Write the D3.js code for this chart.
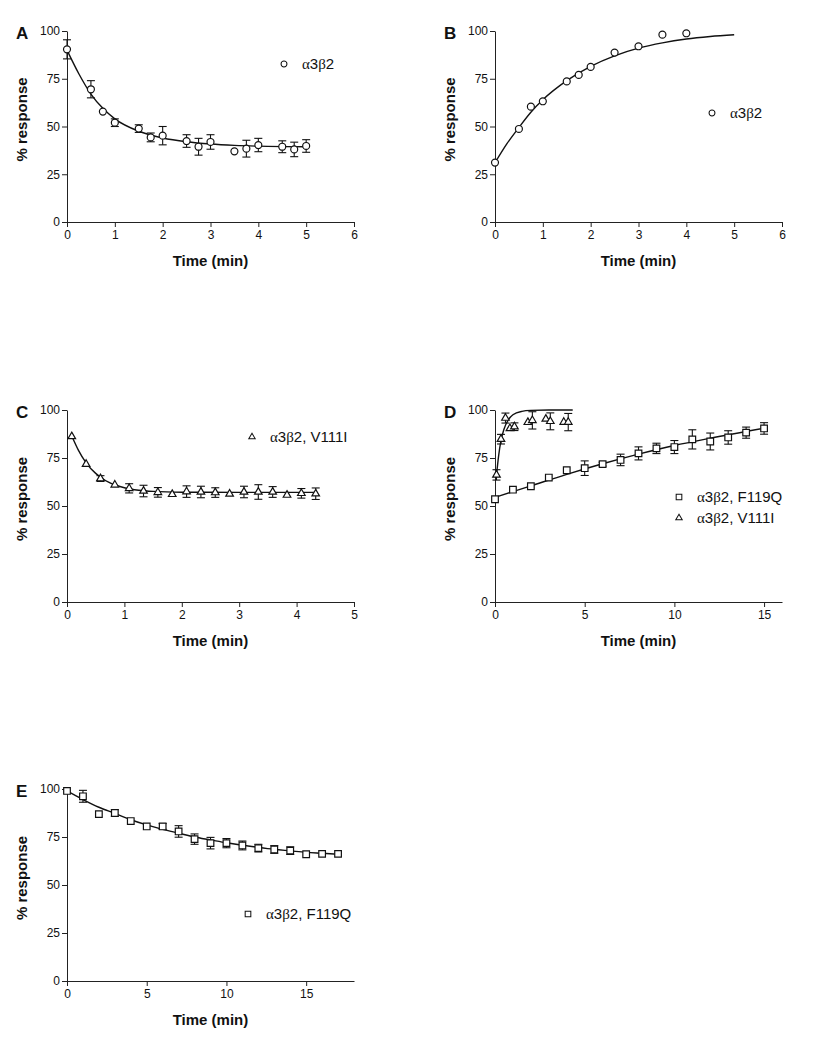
<!DOCTYPE html>
<html>
<head>
<meta charset="utf-8">
<script src="https://cdnjs.cloudflare.com/ajax/libs/d3/7.8.5/d3.min.js"></script>
<style>
  body { margin: 0; background: #fff; }
  text { font-family: Arial, "Liberation Sans", sans-serif; fill: #111; }
</style>
</head>
<body>
<div></div>
<script>
// ---- data ----
// A: a3b2 recovery (circles)
var timeA = [0, 0.5, 0.75, 1, 1.5, 1.75, 2, 2.5, 2.75, 3, 3.5, 3.75, 4, 4.5, 4.75, 5];
var respA = [90.4, 69.5, 57.8, 52, 48.9, 44.3, 45.2, 42.4, 39.4, 41.9, 37, 38.4, 40.3, 39.4, 38, 39.8];
var semA  = [5, 4.5, 0, 2, 2, 2.3, 4.8, 3.3, 4.4, 3.8, 0, 4.4, 3.5, 3.1, 3.8, 3.3];
var fitTimeA = [0, 0.25, 0.5, 0.75, 1, 1.5, 2, 2.5, 3, 3.5, 4, 5];
var fitRespA = [90, 77.5, 67, 59.5, 54, 47.5, 44, 42, 40.8, 40.1, 39.7, 39.4];

// B: a3b2 (circles, no error bars)
var timeB = [0, 0.5, 0.75, 1, 1.5, 1.75, 2, 2.5, 3, 3.5, 4];
var respB = [31.1, 48.7, 60.4, 63.2, 73.6, 77, 81.2, 88.7, 92, 98.1, 98.8];
var fitTimeB = [0, 0.25, 0.5, 0.75, 1, 1.5, 2, 2.5, 3, 3.5, 4, 4.5, 5];
var fitRespB = [31, 41, 49.5, 57.5, 64, 74, 81.5, 87, 91, 93.8, 95.8, 97.1, 98];

// C: a3b2 V111I (triangles)
var timeC = [0.083, 0.333, 0.583, 0.833, 1.083, 1.333, 1.583, 1.833, 2.083, 2.333, 2.583, 2.833, 3.083, 3.333, 3.583, 3.833, 4.083, 4.333];
var respC = [86.2, 71.8, 64.3, 61, 59.2, 57.8, 57.1, 56.1, 57.5, 57.3, 57, 56.3, 57.3, 57.3, 57.3, 55.7, 56.6, 56.4];
var semC  = [0, 0, 1.5, 0, 2.4, 3, 2.5, 0, 3, 3, 2.5, 0, 3, 3.8, 2.8, 0, 2.5, 3];
var fitTimeC = [0.083, 0.2, 0.333, 0.5, 0.583, 0.75, 1, 1.25, 1.5, 2, 3, 4.333];
var fitRespC = [86.5, 79, 72.5, 67, 65, 62, 59.5, 58.2, 57.6, 57.2, 57.1, 57.1];

// D: a3b2 F119Q (squares) and a3b2 V111I (triangles)
var timeDF = [0, 1, 2, 3, 4, 5, 6, 7, 8, 9, 10, 11, 12, 13, 14, 15];
var respDF = [53.5, 58.5, 60.3, 64.8, 68.6, 69.7, 71.8, 74, 77.4, 80, 80.7, 84.7, 83.6, 85.7, 88.2, 90.4];
var semDF  = [0, 0, 0, 0, 0, 3.8, 1, 3, 3.4, 2.7, 3.4, 5, 4.4, 3.5, 2.9, 3];
var fitTimeDF = [0, 2, 4, 6, 8, 10, 12, 15];
var fitRespDF = [54.5, 60.5, 66.5, 72, 77, 81.5, 85.3, 90.5];
var timeDV = [0.083, 0.333, 0.583, 0.833, 1.083, 1.833, 2.083, 2.833, 3.083, 3.833, 4.083];
var respDV = [66.2, 84.8, 95.8, 90.4, 91.3, 93.6, 94.6, 95.3, 94.1, 93.7, 93.7];
var semDV  = [2.7, 2.5, 2.6, 0, 2, 0, 4.5, 0, 4.4, 0, 4.5];
var fitTimeDV = [0.083, 0.2, 0.333, 0.5, 0.75, 1, 1.5, 2, 3, 4.333];
var fitRespDV = [66, 76, 84, 90, 95, 97.5, 99.3, 99.8, 100, 100];

// E: a3b2 F119Q (squares)
var timeE = [0, 1, 2, 3, 4, 5, 6, 7, 8, 9, 10, 11, 12, 13, 14, 15, 16, 17];
var respE = [99, 96.2, 86.9, 87.5, 83.3, 80.5, 80.5, 77.9, 73.9, 71.8, 71.8, 70.6, 69.2, 68.5, 67.9, 66, 66.2, 66.2];
var semE  = [0, 3.1, 0, 1.7, 0, 0, 1.5, 3, 2.7, 3, 2.4, 2.3, 2, 2, 2, 0, 0, 0];
var fitTimeE = [0, 1, 2, 3, 4, 5, 6, 7, 8, 9, 10, 11, 12, 13, 14, 15, 16, 17];
var fitRespE = [99, 94.5, 90.5, 87.3, 84, 81.3, 79, 77, 75, 73.5, 72, 70.7, 69.6, 68.6, 67.8, 67, 66.5, 66];

var yTicks = [0, 25, 50, 75, 100];

// ---- layout ----
var svg = d3.select("div").append("svg")
  .attr("width", 820)
  .attr("height", 1050);

var shapes = {
  circle:   d3.symbol().type(d3.symbolCircle).size(38),
  square:   d3.symbol().type(d3.symbolSquare).size(44),
  triangle: d3.symbol().type(d3.symbolTriangle).size(25)
};

function zip(t, r, e) {
  return t.map(function (d, i) { return { t: d, r: r[i], e: e ? e[i] : 0 }; });
}

function panel(p) {
  var x = d3.scaleLinear().domain([0, p.xMax]).range([p.left, p.right]);
  var y = d3.scaleLinear().domain([0, 100]).range([p.bottom, p.top]);
  var g = svg.append("g");

  // axes
  g.append("g")
    .attr("transform", "translate(0," + p.bottom + ")")
    .call(d3.axisBottom(x).tickValues(p.xTicks).tickFormat(d3.format("d")).tickSize(5).tickSizeOuter(0).tickPadding(3));
  g.append("g")
    .attr("transform", "translate(" + p.left + ",0)")
    .call(d3.axisLeft(y).tickValues(yTicks).tickFormat(d3.format("d")).tickSize(5).tickSizeOuter(0).tickPadding(2));
  g.selectAll(".domain, .tick line").attr("stroke", "#222");
  g.selectAll(".tick text").attr("font-size", 12).attr("font-family", "Arial, 'Liberation Sans', sans-serif").attr("fill", "#222");

  // titles
  g.append("text")
    .attr("x", (p.left + p.right) / 2)
    .attr("y", p.bottom + 44)
    .attr("text-anchor", "middle")
    .attr("font-size", 15).attr("font-weight", "bold")
    .text("Time (min)");
  g.append("text")
    .attr("transform", "translate(" + (p.left - 40) + "," + ((p.top + p.bottom) / 2 - 7) + ") rotate(-90)")
    .attr("text-anchor", "middle")
    .attr("font-size", 15).attr("font-weight", "bold")
    .text("% response");
  g.append("text")
    .attr("x", p.left - 51)
    .attr("y", p.top + 8)
    .attr("font-size", 17).attr("font-weight", "bold")
    .text(p.letter);

  var line = d3.line()
    .x(function (d) { return x(d.t); })
    .y(function (d) { return y(d.r); })
    .curve(d3.curveMonotoneX);

  p.series.forEach(function (s) {
    g.append("path")
      .datum(s.fit)
      .attr("d", line)
      .attr("fill", "none")
      .attr("stroke", "#111")
      .attr("stroke-width", 1.4);
  });

  p.series.forEach(function (s) {
    var bars = g.selectAll(null).data(s.pts.filter(function (d) { return d.e > 0; }))
      .enter().append("g").attr("stroke", "#111").attr("stroke-width", 1.1);
    bars.append("line")
      .attr("x1", function (d) { return x(d.t); }).attr("x2", function (d) { return x(d.t); })
      .attr("y1", function (d) { return y(d.r + d.e); }).attr("y2", function (d) { return y(d.r - d.e); });
    [1, -1].forEach(function (sgn) {
      bars.append("line")
        .attr("x1", function (d) { return x(d.t) - 4; }).attr("x2", function (d) { return x(d.t) + 4; })
        .attr("y1", function (d) { return y(d.r + sgn * d.e); }).attr("y2", function (d) { return y(d.r + sgn * d.e); });
    });

    g.selectAll(null).data(s.pts).enter().append("path")
      .attr("d", shapes[s.shape])
      .attr("transform", function (d) { return "translate(" + x(d.t) + "," + y(d.r) + ")"; })
      .attr("fill", "#fff")
      .attr("stroke", "#111")
      .attr("stroke-width", 1.2);
  });

  // legend
  p.legend.forEach(function (l, i) {
    var ly = l.y + i * 21;
    g.append("path")
      .attr("d", shapes[l.shape])
      .attr("transform", "translate(" + l.x + "," + ly + ") scale(0.85)")
      .attr("fill", "#fff").attr("stroke", "#111").attr("stroke-width", 1.2);
    var t = g.append("text")
      .attr("x", l.x + 18)
      .attr("y", ly + 5)
      .attr("font-size", 15);
    t.append("tspan").attr("font-family", "'Liberation Serif', 'DejaVu Serif', serif").text("\u03b1");
    t.append("tspan").text("3");
    t.append("tspan").attr("font-family", "'Liberation Serif', 'DejaVu Serif', serif").text("\u03b2");
    t.append("tspan").text("2" + l.suffix);
  });
}

panel({
  letter: "A", left: 67, right: 354, top: 31, bottom: 222, xMax: 6, xTicks: [0, 1, 2, 3, 4, 5, 6],
  series: [{ pts: zip(timeA, respA, semA), fit: zip(fitTimeA, fitRespA), shape: "circle" }],
  legend: [{ x: 284, y: 64, shape: "circle", suffix: "" }]
});
panel({
  letter: "B", left: 495, right: 782, top: 31, bottom: 222, xMax: 6, xTicks: [0, 1, 2, 3, 4, 5, 6],
  series: [{ pts: zip(timeB, respB), fit: zip(fitTimeB, fitRespB), shape: "circle" }],
  legend: [{ x: 712, y: 113, shape: "circle", suffix: "" }]
});
panel({
  letter: "C", left: 67, right: 354, top: 410, bottom: 602, xMax: 5, xTicks: [0, 1, 2, 3, 4, 5],
  series: [{ pts: zip(timeC, respC, semC), fit: zip(fitTimeC, fitRespC), shape: "triangle" }],
  legend: [{ x: 252, y: 437, shape: "triangle", suffix: ", V111I" }]
});
panel({
  letter: "D", left: 495, right: 782, top: 410, bottom: 602, xMax: 16, xTicks: [0, 5, 10, 15],
  series: [
    { pts: zip(timeDF, respDF, semDF), fit: zip(fitTimeDF, fitRespDF), shape: "square" },
    { pts: zip(timeDV, respDV, semDV), fit: zip(fitTimeDV, fitRespDV), shape: "triangle" }
  ],
  legend: [
    { x: 679, y: 497, shape: "square", suffix: ", F119Q" },
    { x: 679, y: 497, shape: "triangle", suffix: ", V111I" }
  ]
});
panel({
  letter: "E", left: 67, right: 354, top: 789, bottom: 981, xMax: 18, xTicks: [0, 5, 10, 15],
  series: [{ pts: zip(timeE, respE, semE), fit: zip(fitTimeE, fitRespE), shape: "square" }],
  legend: [{ x: 248, y: 914, shape: "square", suffix: ", F119Q" }]
});
</script>
</body>
</html>
